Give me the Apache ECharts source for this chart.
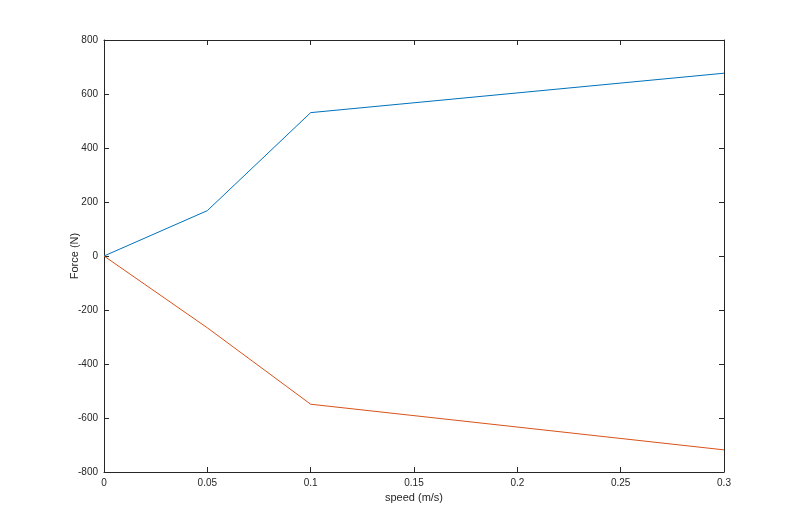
<!DOCTYPE html>
<html>
<head>
<meta charset="utf-8">
<script src="https://cdn.jsdelivr.net/npm/echarts@6/dist/echarts.min.js"></script>
<style>html,body{margin:0;padding:0;background:#fff}#c{width:800px;height:531px}</style>
</head>
<body>
<div id="c"></div>
<script>
var speed = [0, 0.05, 0.1, 0.3];
var forcePos = [0, 168, 531, 677];
var forceNeg = [0, -266, -549, -718];
var xLabel = 'speed (m/s)';
var yLabel = 'Force (N)';

function pairs(xs, ys) { return xs.map(function (x, i) { return [x, ys[i]]; }); }

var axisCol = '#262626';
var font = 'Liberation Sans, Arial, Helvetica, sans-serif';
var chart = echarts.init(document.getElementById('c'), null, {renderer: 'canvas'});
var baseX = {
  type: 'value', min: 0, max: 0.3, interval: 0.05,
  axisLine: {show: true, onZero: false, lineStyle: {color: axisCol, width: 1}},
  axisTick: {show: true, inside: true, length: 5, lineStyle: {color: axisCol}},
  splitLine: {show: false}
};
var baseY = {
  type: 'value', min: -800, max: 800, interval: 200,
  axisLine: {show: true, onZero: false, lineStyle: {color: axisCol, width: 1}},
  axisTick: {show: true, inside: true, length: 5, lineStyle: {color: axisCol}},
  splitLine: {show: false}
};
chart.setOption({
  animation: false,
  backgroundColor: '#ffffff',
  grid: {left: 104, right: 76, top: 40, bottom: 59, containLabel: false},
  xAxis: [
    Object.assign({}, baseX, {
      position: 'bottom',
      name: xLabel, nameLocation: 'middle', nameGap: 20,
      nameTextStyle: {color: axisCol, fontSize: 11, fontFamily: font},
      axisLabel: {color: axisCol, fontSize: 10, fontFamily: font, margin: 6,
        formatter: function (v) { return String(+v.toFixed(2)); }}
    }),
    Object.assign({}, baseX, {position: 'top', axisLabel: {show: false}})
  ],
  yAxis: [
    Object.assign({}, baseY, {
      position: 'left',
      name: yLabel, nameLocation: 'middle', nameGap: 24, nameMoveOverlap: false,
      nameTextStyle: {color: axisCol, fontSize: 11, fontFamily: font},
      axisLabel: {color: axisCol, fontSize: 10, fontFamily: font, margin: 6}
    }),
    Object.assign({}, baseY, {position: 'right', axisLabel: {show: false}})
  ],
  series: [
    {type: 'line', data: pairs(speed, forcePos), xAxisIndex: 0, yAxisIndex: 0,
      showSymbol: false, lineStyle: {color: '#0072BD', width: 1}, itemStyle: {color: '#0072BD'}},
    {type: 'line', data: pairs(speed, forceNeg), xAxisIndex: 0, yAxisIndex: 0,
      showSymbol: false, lineStyle: {color: '#D95319', width: 1}, itemStyle: {color: '#D95319'}}
  ]
});
</script>
</body>
</html>
